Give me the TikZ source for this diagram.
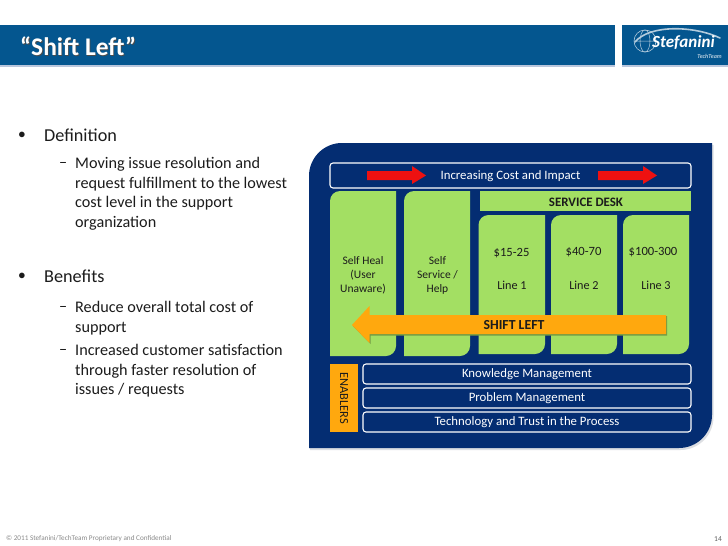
\documentclass[tikz,border=0pt]{standalone}
\usepackage{fontspec}
\setmainfont{Carlito}
\usetikzlibrary{calc,positioning}
\definecolor{stefBlue}{HTML}{04568F}
\definecolor{stefRule}{HTML}{B9C6DC}
\definecolor{stefNavy}{HTML}{042D72}
\definecolor{stefGreen}{HTML}{A3DF63}
\definecolor{stefOrange}{HTML}{FFA80E}
\definecolor{stefRed}{HTML}{EE1111}
\definecolor{stefInk}{HTML}{1C1C1C}
\definecolor{stefGrey}{HTML}{8A8A8A}
\definecolor{stefShade}{HTML}{DDDFE3}
\begin{document}
\begin{tikzpicture}[x=1pt,y=-1pt,line cap=round,line join=round]
\useasboundingbox[fill=white] (0,0) rectangle (728,546);
\tikzset{bullet/.style={anchor=west,text=stefInk,font=\fontsize{18.2}{18.2}\selectfont},dotmark/.style={anchor=center,text=stefInk,font=\fontsize{15}{15}\selectfont,inner sep=0pt},subtext/.style={anchor=north west,text=stefInk,font=\fontsize{16.2}{19.6}\selectfont,align=left,inner sep=0pt},dashmark/.style={anchor=base west,text=stefInk,font=\fontsize{16.2}{16.2}\selectfont,inner sep=0pt},bar/.style={draw=white,fill=stefNavy,line width=1.1pt,rounded corners=3pt},bartext/.style={text=white,font=\fontsize{12.8}{12.8}\selectfont},coltext/.style={text=stefInk,font=\fontsize{11.5}{14}\selectfont,align=center}}
% title band and logo
\path[fill=stefRule] (0,65) rectangle (615,67);
\path[fill=stefBlue] (0,25) rectangle (615,65);
\path[fill=stefRule] (622,65) rectangle (728,67);
\path[fill=stefBlue] (622,25) rectangle (728,65);
\node[anchor=west,text=black!70,font=\bfseries\fontsize{25.4}{25.4}\selectfont,inner sep=0pt] (titleshade) at (20.8,46.8) {“Shift Left”};
\node[anchor=west,text=white,font=\bfseries\fontsize{25.4}{25.4}\selectfont,inner sep=0pt] (title) at (20,46) {“Shift Left”};
\draw[white!70!stefBlue,line width=1.6pt] (635,42) .. controls (650,24) and (695,26) .. (720,38);
\draw[white!70!stefBlue,line width=.6pt] (645,41) circle (11);
\draw[white!70!stefBlue,line width=.5pt] (645,41) ellipse (5 and 11) (634,41) -- (656,41);
\node[anchor=west,text=white,font=\bfseries\itshape\fontsize{17}{17}\selectfont,inner sep=0pt] (logo) at (652,43) {Stefanini};
\node[anchor=east,text=white!70!stefBlue,font=\bfseries\itshape\fontsize{6}{6}\selectfont,inner sep=0pt] (logotech) at (722,56) {TechTeam};
% left text
\node[dotmark] (dotone) at (22,135) {$\bullet$};
\node[bullet,inner sep=0pt] (definition) at (44,135) {Definition};
\node[dashmark] (dashone) at (59,167) {–};
\node[subtext] (moving) at (75,157) {Moving issue resolution and\\request fulfillment to the lowest\\cost level in the support\\organization};
\node[dotmark] (dottwo) at (22,276) {$\bullet$};
\node[bullet,inner sep=0pt] (benefits) at (44,276) {Benefits};
\node[dashmark] (dashtwo) at (59,311) {–};
\node[subtext] (reduce) at (75,301) {Reduce overall total cost of\\support};
\node[dashmark] (dashthree) at (59,354) {–};
\node[subtext] (increased) at (75,344) {Increased customer satisfaction\\through faster resolution of\\issues / requests};
% panel
\path[fill=stefShade] (310,450) -- (310,176) arc (180:270:33) -- (713.5,145) -- (713.5,417) arc (0:90:33) -- cycle;
\path[fill=stefNavy] (309,448) -- (309,176) arc (180:270:33) -- (712,143) -- (712,415) arc (0:90:33) -- cycle;
% top bar
\path[bar] (330,163) rectangle (691,188);
\node[bartext] (increasing) at (510.5,176) {Increasing Cost and Impact};
\foreach \ax in {367,598}{\path[fill=stefRed] (\ax,171) -- (\ax+45,171) -- (\ax+45,166) -- (\ax+59,175.5) -- (\ax+45,184) -- (\ax+45,180) -- (\ax,180) -- cycle;}
% green columns
\foreach \cl/\cr/\ct/\cb in {330/396/191/356,404/470/191/356,478.5/545/215/354,551/617/215/354,623/689/215/354}{\path[fill=stefGreen] (\cl,\cb) -- (\cl,\ct+10) arc (180:270:10) -- (\cr,\ct) -- (\cr,\cb-10) arc (0:90:10) -- cycle;}
\path[fill=stefGreen] (480,191) -- (691,191) -- (691,211) -- (480,211) -- cycle;
\node[text=stefInk,font=\bfseries\fontsize{12.9}{12.9}\selectfont] (desk) at (586,202) {SERVICE DESK};
\node[coltext] (heal) at (363,275) {Self Heal\\(User\\Unaware)};
\node[coltext] (service) at (437.5,275) {Self\\Service /\\Help};
\node[coltext,font=\fontsize{12.6}{12.6}\selectfont] (priceone) at (511.5,253) {\$15-25};
\node[coltext,font=\fontsize{12.6}{12.6}\selectfont] (pricetwo) at (583.5,252) {\$40-70};
\node[coltext,font=\fontsize{12.6}{12.6}\selectfont] (pricethree) at (653,252) {\$100-300};
\node[coltext,font=\fontsize{12.2}{12.2}\selectfont] (lineone) at (512,285) {Line 1};
\node[coltext,font=\fontsize{12.2}{12.2}\selectfont] (linetwo) at (584,285) {Line 2};
\node[coltext,font=\fontsize{12.2}{12.2}\selectfont] (linethree) at (656,285) {Line 3};
% shift left arrow
\path[fill=black!30!stefGreen] (353,326) -- (370.5,344) -- (370.5,335.5) -- (667,335.5) -- (667,316) -- (370.5,316) -- cycle;
\path[fill=stefOrange] (352,325) -- (369.5,306) -- (369.5,315) -- (666,315) -- (666,334) -- (369.5,334) -- (369.5,343) -- cycle;
\node[text=stefInk,font=\bfseries\fontsize{13.8}{13.8}\selectfont] (shift) at (514,325) {SHIFT LEFT};
% enablers
\path[fill=stefOrange] (330,364) rectangle (358,432);
\node[rotate=-90,text=stefInk,font=\fontsize{12.4}{12.4}\selectfont] (enablers) at (344,398) {ENABLERS};
\path[bar] (363,364) rectangle (691,384);
\path[bar] (363,388) rectangle (691,408);
\path[bar] (363,412) rectangle (691,432);
\node[bartext] (knowledge) at (527,374.5) {Knowledge Management};
\node[bartext] (problem) at (527,398.5) {Problem Management};
\node[bartext] (technology) at (527,422.5) {Technology and Trust in the Process};
% footer
\node[anchor=west,text=stefGrey,font=\fontsize{7.2}{7.2}\selectfont,inner sep=0pt] (footer) at (6,539) {© 2011 Stefanini/TechTeam Proprietary and Confidential};
\node[anchor=east,text=stefInk!70,font=\fontsize{7.5}{7.5}\selectfont,inner sep=0pt] (pagenum) at (722,539) {14};
\end{tikzpicture}
\end{document}
